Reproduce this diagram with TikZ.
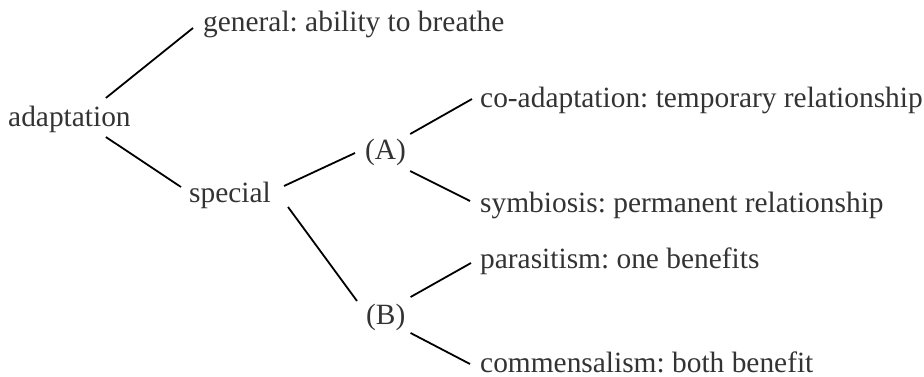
\documentclass[tikz,border=0pt]{standalone}
\usepackage{fontspec}
\setmainfont{Liberation Serif}
\usetikzlibrary{positioning}
\frenchspacing

\begin{document}
\begin{tikzpicture}[x=1pt, y=-1pt]
        \useasboundingbox (0,0) rectangle (924,377);
        \begin{scope}[every node/.style={anchor=base west, inner sep=0pt, text=black!80,
                      font=\fontsize{29.4}{35}\selectfont}]
            \node (adapt) at (8, 127) {adaptation} ;
            \node (gen) at (203, 32) {general: ability to breathe} ;
            \node (spec) at (189, 202) {special} ;
            \node (A) at (365, 160) {(A)} ;
            \node (B) at (366, 324) {(B)} ;
            \node (coad) at (480, 108) {co-adaptation: temporary relationship} ;
            \node (symb) at (480, 212) {symbiosis: permanent relationship} ;
            \node (para) at (480, 268) {parasitism: one benefits} ;
            \node (comm) at (480, 372) {commensalism: both benefit} ;
        \end{scope}

        \begin{scope}[every edge/.style={draw=black, line width=1.8pt}]
            \path ([shift={(-25,-29)}]adapt.base east) edge ([shift={(-10,-4)}]gen.base west);
            \path ([shift={(-25,10)}]adapt.base east) edge ([shift={(-8,-15)}]spec.base west);
            \path ([shift={(13,-16)}]spec.base east) edge ([shift={(-10,-7)}]A.base west);
            \path ([shift={(17,5)}]spec.base east) edge ([shift={(-9,-23)}]B.base west);
            \path ([shift={(4,-26)}]A.base east) edge ([shift={(-8,-9)}]coad.base west);
            \path ([shift={(4,11)}]A.base east) edge ([shift={(-10,-11)}]symb.base west);
            \path ([shift={(5,-27)}]B.base east) edge ([shift={(-9,-5)}]para.base west);
            \path ([shift={(5,9)}]B.base east) edge ([shift={(-10,-8)}]comm.base west);
        \end{scope}
    \end{tikzpicture}
\end{document}
